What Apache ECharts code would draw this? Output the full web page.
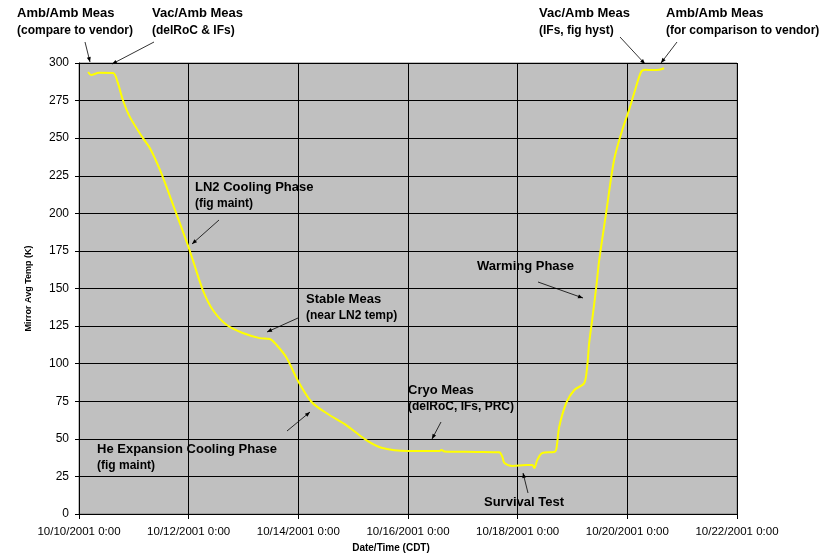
<!DOCTYPE html>
<html>
<head>
<meta charset="utf-8">
<script src="https://cdn.jsdelivr.net/npm/echarts@6/dist/echarts.min.js"></script>
<style>
html,body{margin:0;padding:0;background:#fff;}
#c{width:834px;height:559px;}
</style>
</head>
<body>
<div id="c"></div>
<script>
// Elapsed hours since 10/10/2001 0:00 (CDT)
var hours = [4.0, 5.3, 8.7, 14.9, 17.0, 19.2, 22.3, 28.0, 31.0, 35.4, 41.1, 47.6, 49.8, 54.2, 58.6, 64.7, 71.7, 79.1, 83.5, 86.5, 90.9, 95.7, 101.8, 108.4, 117.1, 125.9, 132.8, 143.8, 157.8, 158.6, 160.0, 173.9, 183.9, 185.3, 186.2, 189.7, 195.8, 198.4, 199.3, 200.6, 202.8, 208.0, 208.9, 210.2, 213.3, 216.8, 221.1, 222.4, 223.3, 224.6, 226.4, 227.7, 230.7, 234.2, 237.7, 240.8, 243.0, 246.0, 247.8, 250.8, 253.9, 256.1];
// Mirror average temperature (K)
var temps = [294.0, 292.0, 293.5, 293.4, 286.8, 275.4, 264.0, 250.0, 243.5, 229.0, 206.0, 179.0, 169.0, 149.0, 135.7, 125.7, 120.4, 117.0, 116.4, 112.4, 103.8, 89.0, 74.5, 67.0, 59.0, 49.0, 43.9, 41.9, 41.9, 42.6, 41.6, 41.3, 41.0, 38.0, 33.9, 32.0, 32.6, 32.6, 30.6, 36.0, 40.6, 41.3, 43.0, 58.0, 74.0, 82.5, 87.0, 97.8, 113.8, 129.0, 151.0, 169.0, 200.0, 235.5, 255.0, 269.0, 280.0, 294.0, 295.5, 295.3, 295.5, 296.5];
// X tick labels (every 48 h)
var xTickLabels = ['10/10/2001 0:00', '10/12/2001 0:00', '10/14/2001 0:00', '10/16/2001 0:00', '10/18/2001 0:00', '10/20/2001 0:00', '10/22/2001 0:00'];
// Annotation texts
var annoTexts = [
  ['Amb/Amb Meas', '(compare to vendor)'],
  ['Vac/Amb Meas', '(delRoC & IFs)'],
  ['Vac/Amb Meas', '(IFs, fig hyst)'],
  ['Amb/Amb Meas', '(for comparison to vendor)'],
  ['LN2 Cooling Phase', '(fig maint)'],
  ['Stable Meas', '(near LN2 temp)'],
  ['He Expansion Cooling Phase', '(fig maint)'],
  ['Cryo Meas', '(delRoC, IFs, PRC)'],
  ['Survival Test'],
  ['Warming Phase']
];
// Annotation layout (pixels): text left x, line centre ys, arrow [x1,y1,x2(tip),y2(tip)]
var annoLayout = [
  {x: 17, y: [14, 32], a: [85, 42, 90, 62]},
  {x: 152, y: [14, 32], a: [154, 42, 112, 64]},
  {x: 539, y: [14, 32], a: [620, 37, 645, 64]},
  {x: 666, y: [14, 32], a: [677, 42, 661, 63]},
  {x: 195, y: [188, 205], a: [219, 220, 192, 244]},
  {x: 306, y: [300, 317], a: [298, 318, 267, 332]},
  {x: 97, y: [450, 467], a: [287, 431, 310, 412]},
  {x: 408, y: [391, 408], a: [441, 422, 432, 439]},
  {x: 484, y: [503], a: [528, 493, 523, 473]},
  {x: 477, y: [267], a: [538, 282, 583, 298]}
];

var FONT = '"Liberation Sans", Arial, sans-serif';
var seriesData = hours.map(function (h, i) { return [h, temps[i]]; });

var graphics = [];
annoTexts.forEach(function (lines, i) {
  var L = annoLayout[i];
  lines.forEach(function (t, j) {
    graphics.push({
      type: 'text', left: L.x, top: L.y[j] - 7, z: 100,
      style: {text: t, fill: '#000', font: 'bold ' + (j === 0 ? 13 : 12) + 'px ' + FONT}
    });
  });
  var a = L.a;
  graphics.push({type: 'line', z: 100, shape: {x1: a[0], y1: a[1], x2: a[2], y2: a[3]}, style: {stroke: '#000', lineWidth: 0.8}});
  var dx = a[2] - a[0], dy = a[3] - a[1], len = Math.sqrt(dx * dx + dy * dy);
  var ux = dx / len, uy = dy / len, hl = 5, hw = 2;
  var bx = a[2] - ux * hl, by = a[3] - uy * hl;
  graphics.push({type: 'polygon', z: 100, shape: {points: [[a[2], a[3]], [bx - uy * hw, by + ux * hw], [bx + uy * hw, by - ux * hw]]}, style: {fill: '#000'}});
});

var chart = echarts.init(document.getElementById('c'), null, {renderer: 'canvas'});
chart.setOption({
  animation: false,
  backgroundColor: '#fff',
  grid: {left: 79, right: 97, top: 63, bottom: 45, show: true, backgroundColor: '#C0C0C0', borderColor: '#808080', borderWidth: 1},
  xAxis: {
    type: 'value', min: 0, max: 288, interval: 48,
    name: 'Date/Time (CDT)', nameLocation: 'middle', nameGap: 27,
    nameTextStyle: {fontFamily: FONT, fontWeight: 'bold', fontSize: 10, color: '#000', padding: [0, 34, 0, 0]},
    axisLine: {show: true, lineStyle: {color: '#000', width: 1}},
    axisTick: {show: true, inside: false, length: 5, lineStyle: {color: '#000'}},
    axisLabel: {fontFamily: FONT, fontSize: 11.5, color: '#000', margin: 12,
      formatter: function (v) { return xTickLabels[Math.round(v / 48)]; }},
    splitLine: {show: true, lineStyle: {color: '#000', width: 1}}
  },
  yAxis: {
    type: 'value', min: 0, max: 300, interval: 25,
    name: 'Mirror Avg Temp (K)', nameLocation: 'middle', nameGap: 46, nameRotate: 90,
    nameTextStyle: {fontFamily: FONT, fontWeight: 'bold', fontSize: 9, color: '#000'},
    axisLine: {show: true, lineStyle: {color: '#000', width: 1}},
    axisTick: {show: true, inside: false, length: 4, lineStyle: {color: '#000'}},
    axisLabel: {fontFamily: FONT, fontSize: 12, color: '#000', margin: 10},
    splitLine: {show: true, lineStyle: {color: '#000', width: 1}}
  },
  series: [{
    type: 'line', data: seriesData, showSymbol: false, smooth: 0.3,
    lineStyle: {color: '#FFFF00', width: 2}, z: 5
  }],
  graphic: graphics
});
</script>
</body>
</html>
